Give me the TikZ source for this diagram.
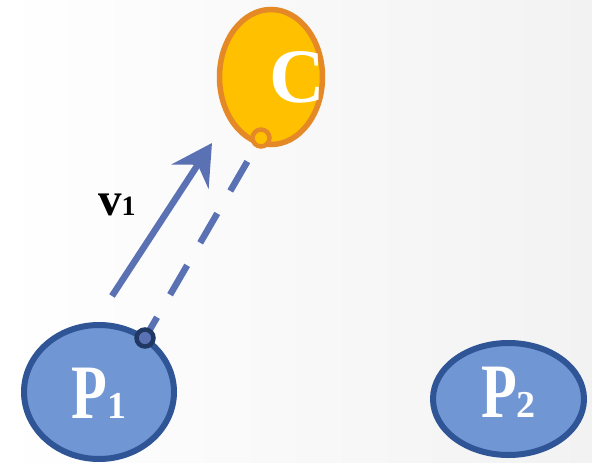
\documentclass[tikz,border=0pt]{standalone}
\usepackage{fontspec}
\setmainfont{Liberation Serif}
\usetikzlibrary{shapes.geometric,arrows.meta}
\definecolor{bgg}{RGB}{242,242,242}
\definecolor{pfill}{RGB}{112,151,211}
\definecolor{pline}{RGB}{47,85,151}
\definecolor{cfill}{RGB}{255,192,0}
\definecolor{cline}{RGB}{229,137,38}
\definecolor{vcol}{RGB}{90,114,180}
\definecolor{dotline}{RGB}{32,56,100}
\tikzset{
  pnode/.style={ellipse, fill=pfill, draw=pline, line width=6pt, inner sep=0pt},
  cnode/.style={ellipse, fill=cfill, draw=cline, line width=5.5pt, inner sep=0pt},
  bigtxt/.style={text=white, font=\fontsize{77}{77}\selectfont\bfseries, inner sep=0pt, anchor=base},
  vecline/.style={draw=vcol, line width=6.5pt},
  pdot/.style={circle, minimum size=17pt, inner sep=0pt, fill=vcol, draw=dotline, line width=4.5pt},
  cdot/.style={circle, minimum size=17pt, inner sep=0pt, fill=cfill, draw=cline, line width=4.5pt},
}
\newcommand{\smallsub}[1]{{\fontsize{38}{38}\selectfont #1}}
\newcommand{\narrowP}{\scalebox{0.76}[1]{P}}
\begin{document}
\begin{tikzpicture}[x=1pt,y=-1pt]
\useasboundingbox (0,0) rectangle (592,463);
\shade[left color=white, middle color=white, right color=bgg] (0,0) rectangle (592,463);
% nodes
\node[cnode, minimum width=103pt, minimum height=135pt] (C) at (271,77) {};
\node[pnode, minimum width=150pt, minimum height=134pt] (P1) at (99,392) {};
\node[pnode, minimum width=151pt, minimum height=112pt] (P2) at (508.5,399) {};
\node[bigtxt] (Ct) at (297,102) {C};
\node[bigtxt] (P1t) at (99,418) {\narrowP\smallsub{1}};
\node[bigtxt] (P2t) at (508.5,417) {\narrowP\smallsub{2}};
% dot positions
\coordinate (cd) at (261,138);
\coordinate (pd) at (145,338);
% dashed connector
\draw[vecline, dash pattern=on 34pt off 26pt, dash phase=10pt] (pd) -- (cd);
\node[cdot] (cdn) at (cd) {};
\node[pdot] (pdn) at (pd) {};
% vector arrow
\coordinate (vt) at (112,296);
\coordinate (vh) at (212,143);
\draw[vecline, -{Stealth[length=40pt,width=44pt,inset=14pt]}] (vt) -- (vh);
\node[anchor=base west, inner sep=0pt] (vl) at (98,215) {\fontsize{47}{47}\selectfont\bfseries v{\fontsize{28}{28}\selectfont 1}};
\end{tikzpicture}
\end{document}
